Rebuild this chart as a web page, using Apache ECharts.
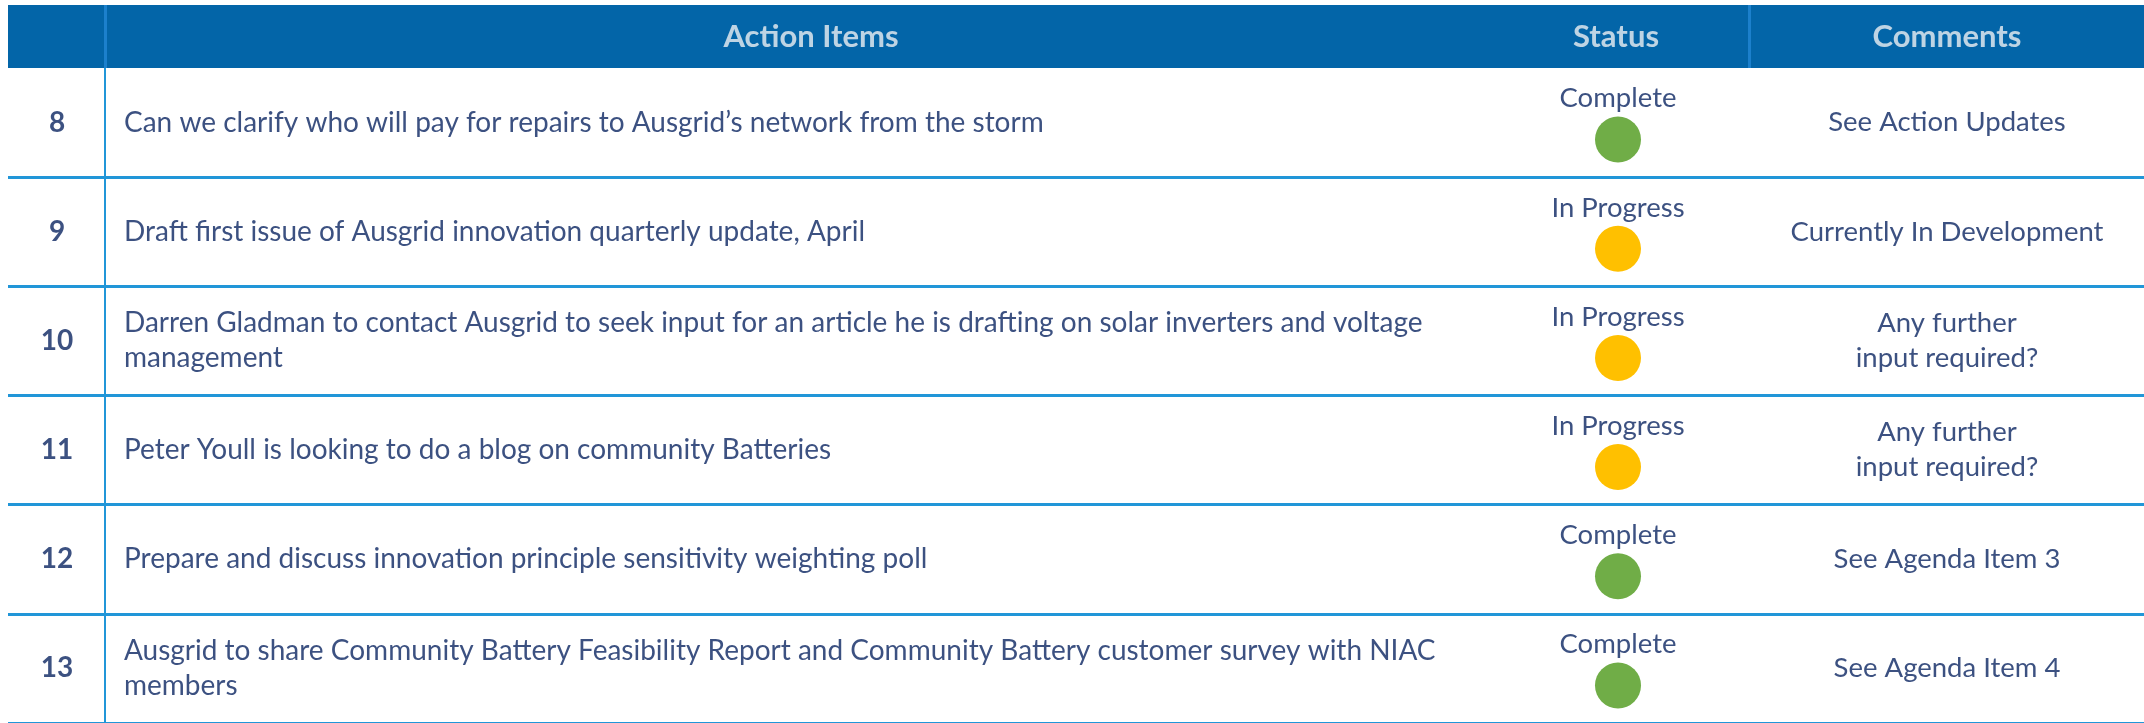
<html>
<head>
<meta http-equiv="Content-Type" content="text/html; charset=utf-8">
<script type="text/javascript" src="https://cdn.jsdelivr.net/npm/echarts@6/dist/echarts.min.js"></script>
<style>
html, body { margin: 0; padding: 0; background: #fff; }
#main { width: 2144px; height: 723px; }
</style>
</head>
<body>
<div id="main"></div>
<script type="text/javascript">
// table contents
var headers = ['Action Items', 'Status', 'Comments'];
var ids = ['8', '9', '10', '11', '12', '13'];
var actions = [
	'Can we clarify who will pay for repairs to Ausgrid\u2019s network from the storm',
	'Draft first issue of Ausgrid innovation quarterly update, April',
	'Darren Gladman to contact Ausgrid to seek input for an article he is drafting on solar inverters and voltage\nmanagement',
	'Peter Youll is looking to do a blog on community Batteries',
	'Prepare and discuss innovation principle sensitivity weighting poll',
	'Ausgrid to share Community Battery Feasibility Report and Community Battery customer survey with NIAC\nmembers'
];
var statuses = ['Complete', 'In Progress', 'In Progress', 'In Progress', 'Complete', 'Complete'];
var comments = [
	'See Action Updates',
	'Currently In Development',
	'Any further\ninput required?',
	'Any further\ninput required?',
	'See Agenda Item 3',
	'See Agenda Item 4'
];

// layout (pixel columns on the x axis)
var colNum = 57, colAction = 124, colStatus = 1618, colComment = 1947;
var headerX = [811, 1616, 1947];
var navy = '#0b2561', lineBlue = '#2196d8';
var font = 'Lato, "Open Sans", sans-serif';
var statusColor = { 'Complete': '#70ad47', 'In Progress': '#ffc000' };

function col(x, list) {
	return list.map(function (v, i) { return { value: [x, ids[i]], txt: v }; });
}

var myChart = echarts.init(document.getElementById('main'));
var option = {
	animation: false,
	grid: [
		{ left: 8, right: 0, top: 68, bottom: 0 },
		{ left: 8, right: 0, top: 5, height: 63, show: true, backgroundColor: '#0365a8', borderWidth: 0 }
	],
	xAxis: [
		{ type: 'value', min: 8, max: 2144, show: false, gridIndex: 0 },
		{ type: 'value', min: 8, max: 2144, show: false, gridIndex: 1 }
	],
	yAxis: [
		{
			type: 'category', data: ids, inverse: true, gridIndex: 0,
			axisLine: { show: false }, axisTick: { show: false }, axisLabel: { show: false },
			splitLine: { show: true, interval: function (i) { return i > 0; }, lineStyle: { color: lineBlue, width: 3 } }
		},
		{ type: 'value', min: 0, max: 1, show: false, gridIndex: 1 }
	],
	series: [
		{
			// row numbers
			type: 'scatter', symbolSize: 0, data: col(colNum, ids),
			label: { show: true, position: 'inside', formatter: function (p) { return p.data.txt; },
				color: navy, fontFamily: font, fontWeight: 'bold', fontSize: 28 },
			markLine: { silent: true, symbol: 'none', label: { show: false },
				lineStyle: { color: lineBlue, width: 2, type: 'solid' }, data: [{ xAxis: 105 }] }
		},
		{
			// action text
			type: 'scatter', symbolSize: 0, data: col(colAction, actions),
			label: { show: true, position: 'right', distance: 0, align: 'left', formatter: function (p) { return p.data.txt; },
				color: navy, fontFamily: font, fontSize: 28, lineHeight: 35 }
		},
		{
			// status label
			type: 'scatter', symbolSize: 0, data: col(colStatus, statuses),
			label: { show: true, position: 'inside', offset: [0, -24], formatter: function (p) { return p.data.txt; },
				color: navy, fontFamily: font, fontSize: 27.5 }
		},
		{
			// status dot
			type: 'scatter', symbol: 'circle', symbolSize: 46, symbolOffset: [0, 17],
			itemStyle: { opacity: 1 },
			data: statuses.map(function (s, i) { return { value: [colStatus, ids[i]], itemStyle: { color: statusColor[s], opacity: 1 } }; })
		},
		{
			// comments
			type: 'scatter', symbolSize: 0, data: col(colComment, comments),
			label: { show: true, position: 'inside', align: 'center', formatter: function (p) { return p.data.txt; },
				color: navy, fontFamily: font, fontSize: 27.5, lineHeight: 35 }
		},
		{
			// header titles
			type: 'scatter', symbolSize: 0, xAxisIndex: 1, yAxisIndex: 1,
			data: headers.map(function (h, i) { return { value: [headerX[i], 0.5], txt: h }; }),
			label: { show: true, position: 'inside', formatter: function (p) { return p.data.txt; },
				color: '#eef0f3', fontFamily: font, fontWeight: 'bold', fontSize: 31 },
			markLine: { silent: true, symbol: 'none', label: { show: false },
				lineStyle: { color: '#1c80cc', width: 3, type: 'solid' }, data: [{ xAxis: 105 }, { xAxis: 1749 }] }
		}
	]
};
myChart.setOption(option);
</script>
</body>
</html>
